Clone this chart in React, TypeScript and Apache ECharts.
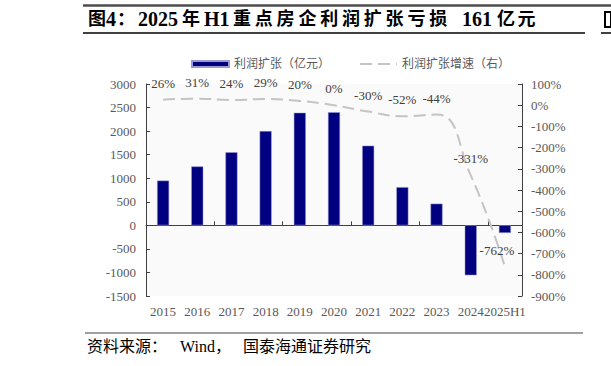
import React, { useEffect, useRef } from "react";
import * as echarts from "echarts";

const categories = ["2015", "2016", "2017", "2018", "2019", "2020", "2021", "2022", "2023", "2024", "2025H1"];
const profitValues = [950, 1250, 1550, 2000, 2390, 2400, 1690, 810, 460, -1060, -161];
const growthValues = [26, 31, 24, 29, 20, 0, -30, -52, -44, -331, -762];
const barName = "利润扩张（亿元）";
const lineName = "利润扩张增速（右）";
const titleParts = ["图", "4", "：", "2025", "年", "H1", "重点房企利润扩张亏损", "161", "亿元"];
const sourceParts = ["资料来源：", "Wind，", "国泰海通证券研究"];

const SERIF = "'Liberation Serif', 'Times New Roman', 'Noto Sans CJK SC', serif";

const titleX = [88, 106, 117, 138, 182, 204, 233, 462, 497];
const titleCjk = [true, false, true, false, true, false, true, false, true];
const sourceX = [87, 180, 243];

export default function App() {
  const ref = useRef<HTMLDivElement>(null);
  useEffect(() => {
    if (!ref.current) return;
    const chart = echarts.init(ref.current, undefined, { renderer: "svg" });
    const axisColor = "#404040";
    const labelColor = "#595959";
    const titleStyle = {
      fontWeight: "bold",
      fontFamily: SERIF,
      fill: "#000000",
      textVerticalAlign: "middle",
    };
    const titleTexts: any[] = [];
    titleParts.forEach((t, i) => {
      const fontSize = titleCjk[i] ? 18 : 20;
      if (titleCjk[i] && t.length > 1) {
        Array.from(t).forEach((ch, j) => {
          titleTexts.push({
            type: "text",
            x: titleX[i] + j * (t.length > 2 ? 21.8 : 20.5),
            y: 19,
            style: { ...titleStyle, fontSize, text: ch },
          });
        });
      } else {
        titleTexts.push({ type: "text", x: titleX[i], y: 19, style: { ...titleStyle, fontSize, text: t } });
      }
    });
    const sourceTexts = sourceParts.map((t, i) => ({
      type: "text",
      x: sourceX[i],
      y: 346,
      style: { text: t, fontSize: 16, fontFamily: SERIF, fill: "#000000", textVerticalAlign: "middle" },
    }));
    chart.setOption({
      animation: false,
      backgroundColor: "#ffffff",
      textStyle: { fontFamily: SERIF },
      grid: {
        left: 146,
        right: 89,
        top: 84,
        bottom: 70,
        show: true,
        backgroundColor: "#fafafa",
        borderWidth: 0,
      },
      legend: {
        left: 186,
        top: 53,
        itemWidth: 37,
        itemHeight: 6,
        itemGap: 29,
        textStyle: { fontSize: 12, color: labelColor, fontFamily: SERIF },
        data: [
          { name: barName, icon: "rect" },
          { name: lineName },
        ],
      },
      xAxis: [
        {
          type: "category",
          data: categories,
          axisLine: { show: false, onZero: false },
          axisTick: { show: false },
          axisLabel: { color: labelColor, fontSize: 13, margin: 9, interval: 0, fontFamily: SERIF },
          splitLine: { show: false },
        },
        {
          type: "category",
          data: categories,
          position: "bottom",
          axisLine: { show: true, onZero: true, lineStyle: { color: axisColor, width: 1 } },
          axisTick: { show: true, inside: true, length: 4, lineStyle: { color: axisColor } },
          axisLabel: { show: false },
          splitLine: { show: false },
        },
      ],
      yAxis: [
        {
          type: "value",
          min: -1500,
          max: 3000,
          interval: 500,
          axisLine: { show: true, lineStyle: { color: axisColor, width: 1 } },
          axisTick: { show: true, inside: true, length: 4, lineStyle: { color: axisColor } },
          axisLabel: {
            color: labelColor,
            fontSize: 13,
            margin: 10,
            fontFamily: SERIF,
            formatter: (v: number) => String(v),
          },
          splitLine: { show: false },
        },
        {
          type: "value",
          min: -900,
          max: 100,
          interval: 100,
          position: "right",
          axisLine: { show: true, lineStyle: { color: axisColor, width: 1 } },
          axisTick: { show: true, inside: true, length: 4, lineStyle: { color: axisColor } },
          axisLabel: { color: labelColor, fontSize: 13, margin: 9, formatter: "{value}%", fontFamily: SERIF },
          splitLine: { show: false },
        },
      ],
      series: [
        {
          name: barName,
          type: "bar",
          xAxisIndex: 0,
          yAxisIndex: 0,
          data: profitValues,
          barWidth: 12,
          itemStyle: { color: "#000080", borderColor: "#9a9ad0", borderWidth: 0.5 },
        },
        {
          name: lineName,
          type: "line",
          xAxisIndex: 0,
          yAxisIndex: 1,
          smooth: true,
          symbol: "circle",
          symbolSize: 2,
          showSymbol: true,
          data: growthValues.map((v, i) =>
            i === growthValues.length - 1 ? { value: v, label: { offset: [-8, 0] } } : v
          ),
          lineStyle: { color: "#c4c4c4", width: 2, type: [12, 6] },
          itemStyle: { color: "rgba(0,0,0,0)", borderWidth: 0 },
          label: {
            show: true,
            position: "top",
            distance: 9,
            formatter: "{c}%",
            color: "#404040",
            fontSize: 13,
            fontFamily: SERIF,
          },
        },
      ],
      graphic: [
        { type: "line", shape: { x1: 83, y1: 5.5, x2: 611, y2: 5.5 }, style: { stroke: "#4d4d4d", lineWidth: 2.5 } },
        ...titleTexts,
        { type: "line", shape: { x1: 83, y1: 33, x2: 585, y2: 33 }, style: { stroke: "#000000", lineWidth: 1.5 } },
        { type: "rect", shape: { x: 605, y: 12, width: 6, height: 15 }, style: { fill: "none", stroke: "#000000", lineWidth: 2 } },
        { type: "line", shape: { x1: 601, y1: 33, x2: 611, y2: 33 }, style: { stroke: "#000000", lineWidth: 1.5 } },
        { type: "line", shape: { x1: 85, y1: 333, x2: 583, y2: 333 }, style: { stroke: "#7f7f7f", lineWidth: 1.5 } },
        ...sourceTexts,
      ],
    });
    return () => chart.dispose();
  }, []);
  return <div ref={ref} style={{ width: 611, height: 366, position: "absolute", left: 0, top: 0 }} />;
}
